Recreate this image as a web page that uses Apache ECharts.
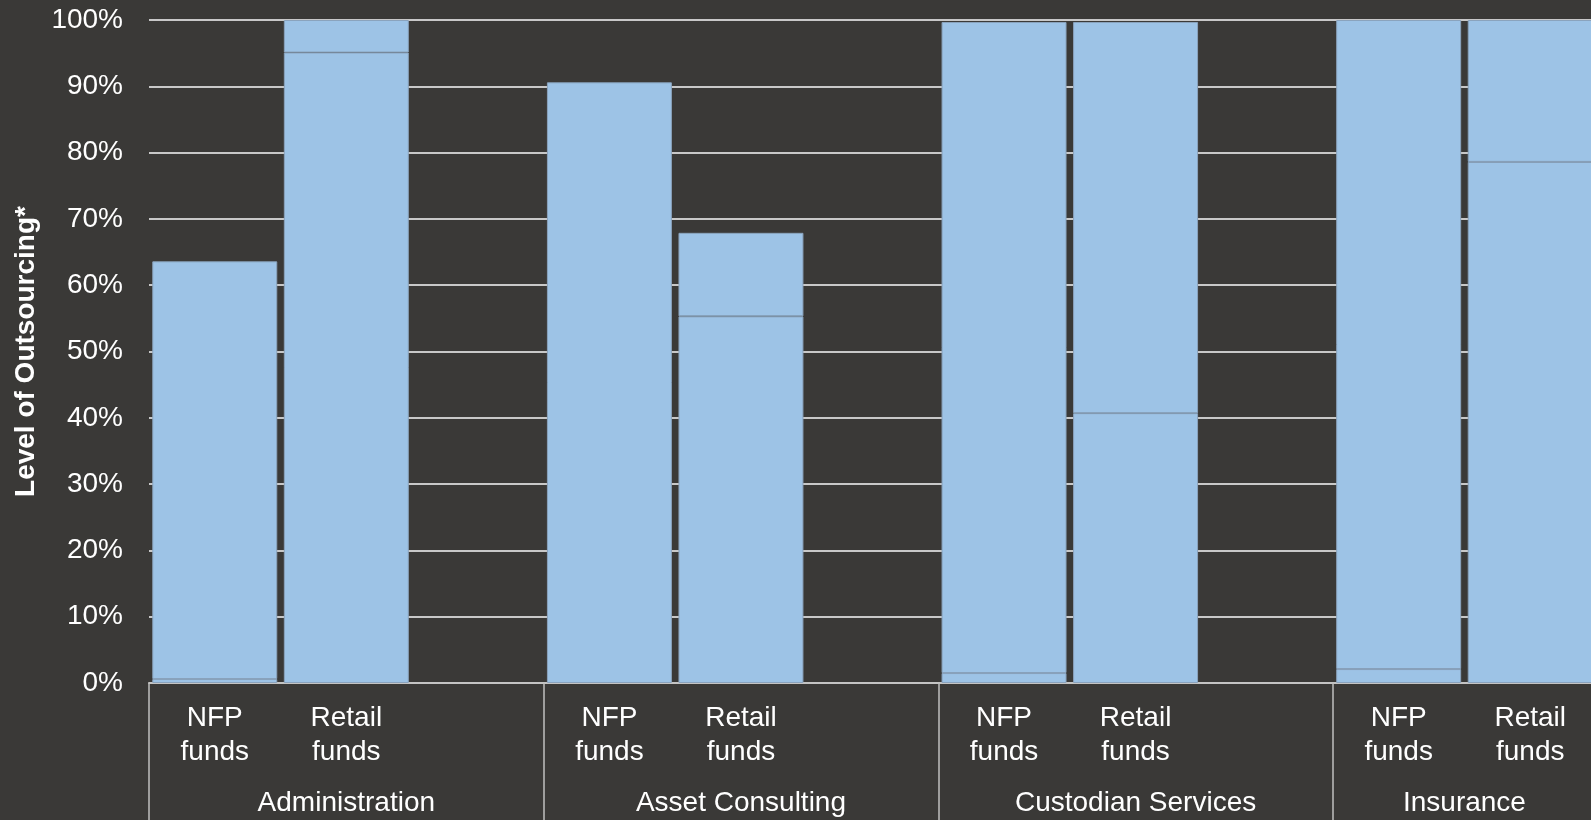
<!DOCTYPE html>
<html>
<head>
<meta charset="utf-8">
<script src="https://cdn.jsdelivr.net/npm/echarts@6/dist/echarts.min.js"></script>
<style>
  html, body { margin: 0; padding: 0; background: #3a3937; }
  #chart { width: 1591px; height: 820px; }
</style>
</head>
<body>
<div id="chart"></div>
<script>
// Service areas and the two fund types shown under each
const services = ['Administration', 'Asset Consulting', 'Custodian Services', 'Insurance'];
const fundTypes = ['NFP\nfunds', 'Retail\nfunds'];

// Level of outsourcing (%), two stacked parts per bar, one value per service
const nfpLower    = [0.6, null, 1.5, 2.1];
const nfpUpper    = [63.0, 90.6, 98.2, 97.9];
const retailLower = [95.1, 55.3, 40.7, 78.6];
const retailUpper = [4.9, 12.6, 59.0, 21.4];

const yTicks = [0, 10, 20, 30, 40, 50, 60, 70, 80, 90, 100];

// Build the slot axis: NFP, Retail, then an empty spacer slot between services
const slots = [], lower = [], upper = [];
const groupStart = [], groupSize = [];
services.forEach((s, i) => {
  groupStart.push(slots.length);
  slots.push(fundTypes[0]); lower.push(nfpLower[i]); upper.push(nfpUpper[i]);
  slots.push(fundTypes[1]); lower.push(retailLower[i]); upper.push(retailUpper[i]);
  if (i < services.length - 1) { slots.push(''); lower.push('-'); upper.push('-'); }
  groupSize.push(slots.length - groupStart[i]);
});
const groupCenters = groupStart.map((st, i) => st + groupSize[i] / 2);
const groupEdges = groupStart.slice();

const FONT = "'Liberation Sans', Arial, sans-serif";
const BAR = '#9dc3e6';
const BORDER = '#8aa3bd';

const chart = echarts.init(document.getElementById('chart'));
chart.setOption({
  backgroundColor: '#3a3937',
  animation: false,
  grid: { left: 149, right: -5, top: 20, bottom: 137, containLabel: false, outerBoundsMode: 'none' },
  xAxis: [
    {
      type: 'category',
      data: slots,
      position: 'bottom',
      axisLine: { show: true, lineStyle: { color: '#c4c4c4', width: 2 } },
      axisTick: { show: false },
      axisLabel: {
        interval: 0, color: '#ffffff', fontFamily: FONT, fontSize: 28,
        lineHeight: 34, margin: 18, align: 'center'
      },
      splitLine: { show: false }
    },
    {
      type: 'value',
      min: 0, max: slots.length,
      position: 'bottom',
      axisLine: { show: false },
      splitLine: { show: false },
      axisTick: {
        show: true, length: 140, customValues: groupEdges,
        lineStyle: { color: '#c0c0c0', width: 1.5 }
      },
      axisLabel: {
        show: true, customValues: groupCenters, color: '#ffffff',
        fontFamily: FONT, fontSize: 28, lineHeight: 34, margin: 103,
        formatter: v => {
          const k = groupCenters.findIndex(c => Math.abs(c - v) < 1e-6);
          return k >= 0 ? services[k] : '';
        }
      }
    }
  ],
  yAxis: {
    type: 'value',
    min: yTicks[0], max: yTicks[yTicks.length - 1], interval: 10,
    name: 'Level of Outsourcing*',
    nameLocation: 'middle',
    nameGap: 105,
    nameTextStyle: { color: '#ffffff', fontFamily: FONT, fontSize: 28, fontWeight: 'bold' },
    axisLine: { show: false },
    axisTick: { show: false },
    axisLabel: { color: '#ffffff', fontFamily: FONT, fontSize: 28, margin: 26, formatter: '{value}%' },
    splitLine: { show: true, lineStyle: { color: '#c8c8c8', width: 2 } }
  },
  series: [
    {
      name: 'Base', type: 'bar', stack: 'level', data: lower,
      xAxisIndex: 0, barCategoryGap: '5%',
      itemStyle: { color: BAR, borderColor: BORDER, borderWidth: 1 }
    },
    {
      name: 'Top', type: 'bar', stack: 'level', data: upper,
      xAxisIndex: 0, barCategoryGap: '5%',
      itemStyle: { color: BAR, borderColor: BORDER, borderWidth: 1 }
    }
  ]
});
</script>
</body>
</html>
